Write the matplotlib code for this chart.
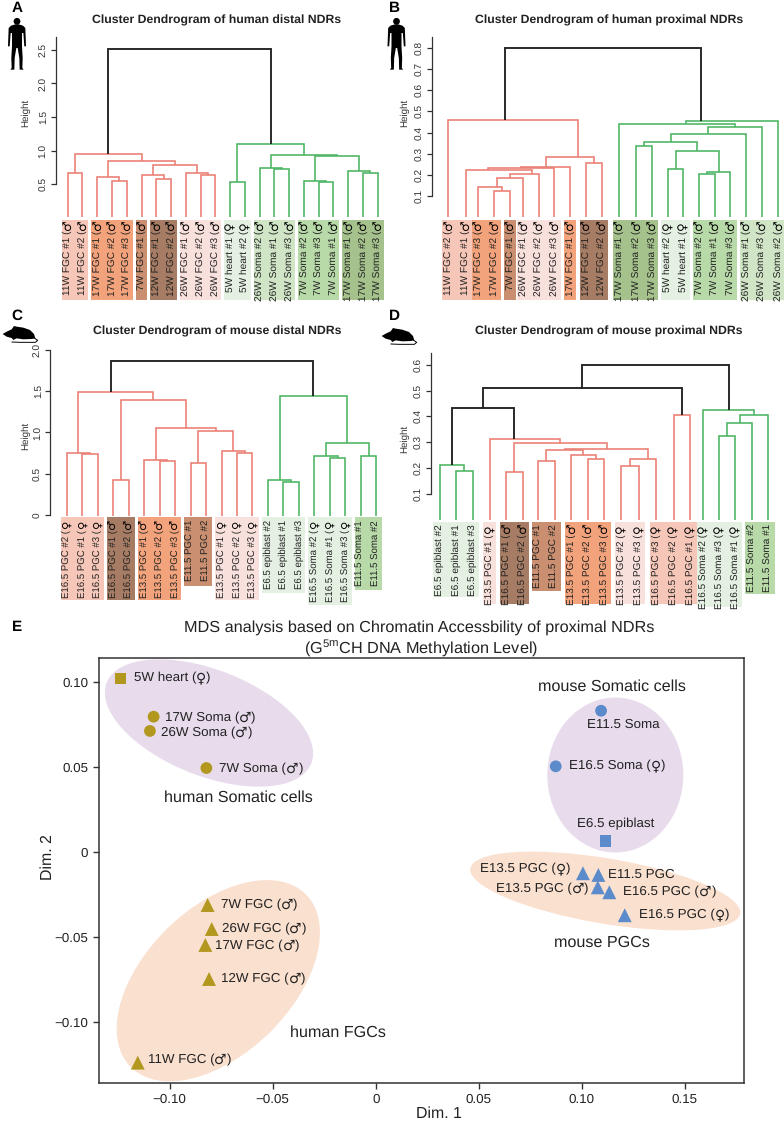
import matplotlib

matplotlib.use("Agg")
import matplotlib.pyplot as plt
from matplotlib.patches import Circle, Ellipse, Polygon, Rectangle

plt.rcParams["font.family"] = ["Liberation Sans", "DejaVu Sans"]
plt.rcParams["mathtext.default"] = "regular"
plt.rcParams["text.hinting"] = "no_hinting"

W, H = 784, 1121
M, F = "♂", "♀"

# dendrograms are stored like R's hclust: negative = leaf, positive = earlier row
labels_a = ["11W FGC #1", "11W FGC #2", "17W FGC #1", "17W FGC #2", "17W FGC #3", "7W FGC #1",
            "12W FGC #1", "12W FGC #2", "26W FGC #1", "26W FGC #2", "26W FGC #3", "5W heart #1",
            "5W heart #2", "26W Soma #2", "26W Soma #1", "26W Soma #3", "7W Soma #2", "7W Soma #3",
            "7W Soma #1", "17W Soma #1", "17W Soma #2", "17W Soma #3"]
sex_a = [M] * 11 + [F] * 2 + [M] * 9
merge_a = [(-1, -2), (-4, -5), (-3, 2), (-7, -8), (-6, 4), (-10, -11), (-9, 6), (5, 7), (3, 8), (1, 9),
           (-12, -13), (-15, -16), (-14, 12), (-18, -19), (-17, 14), (-21, -22), (-20, 16), (15, 17),
           (13, 18), (11, 19), (10, 20)]
height_a = [0.67, 0.54, 0.60, 0.58, 0.64, 0.64, 0.66, 0.78, 0.84, 0.95,
            0.53, 0.73, 0.735, 0.535, 0.545, 0.665, 0.70, 0.92, 0.94, 1.09, 2.52]
branch_a = ["r"] * 10 + ["g"] * 10 + ["k"]

labels_b = ["11W FGC #2", "11W FGC #1", "17W FGC #3", "17W FGC #2", "7W FGC #1", "26W FGC #1",
            "26W FGC #2", "26W FGC #3", "17W FGC #1", "12W FGC #1", "12W FGC #2", "17W Soma #1",
            "17W Soma #2", "17W Soma #3", "5W heart #2", "5W heart #1", "7W Soma #2", "7W Soma #1",
            "7W Soma #3", "26W Soma #1", "26W Soma #3", "26W Soma #2"]
sex_b = [M] * 14 + [F] * 2 + [M] * 6
merge_b = [(-4, -5), (-3, 1), (2, -6), (3, -7), (-2, 4), (5, -8), (6, -9), (-10, -11), (7, 8), (-1, 9),
           (-13, -14), (-15, -16), (-17, -18), (13, -19), (12, 14), (11, 15), (16, -20), (17, -21),
           (-12, 18), (19, -22), (10, 20)]
height_b = [0.124, 0.144, 0.187, 0.204, 0.223, 0.231, 0.239, 0.255, 0.285, 0.46,
            0.338, 0.229, 0.204, 0.213, 0.311, 0.354, 0.395, 0.425, 0.442, 0.455, 0.80]
branch_b = ["r"] * 10 + ["g"] * 10 + ["k"]

labels_c = ["E16.5 PGC #2", "E16.5 PGC #1", "E16.5 PGC #3", "E16.5 PGC #1", "E16.5 PGC #2",
            "E13.5 PGC #1", "E13.5 PGC #2", "E13.5 PGC #3", "E11.5 PGC #1", "E11.5 PGC #2",
            "E13.5 PGC #1", "E13.5 PGC #2", "E13.5 PGC #3", "E6.5 epiblast #2", "E6.5 epiblast #1",
            "E6.5 epiblast #3", "E16.5 Soma #2", "E16.5 Soma #1", "E16.5 Soma #3", "E11.5 Soma #1",
            "E11.5 Soma #2"]
sex_c = [F] * 3 + [M] * 5 + [""] * 2 + [F] * 3 + [""] * 3 + [F] * 3 + [""] * 2
merge_c = [(-2, -3), (-1, 1), (-4, -5), (-7, -8), (-6, 4), (-9, -10), (-12, -13), (-11, 7), (6, 8), (5, 9),
           (3, 10), (2, 11), (-15, -16), (-14, 13), (-18, -19), (-17, 15), (-20, -21), (16, 17),
           (14, 18), (12, 19)]
height_c = [0.735, 0.755, 0.425, 0.65, 0.663, 0.63, 0.75, 0.77, 1.02, 1.06, 1.39, 1.495,
            0.405, 0.425, 0.69, 0.71, 0.72, 0.87, 1.446, 1.87]
branch_c = ["r"] * 12 + ["g"] * 7 + ["k"]

labels_d = ["E6.5 epiblast #2", "E6.5 epiblast #1", "E6.5 epiblast #3", "E13.5 PGC #1", "E16.5 PGC #1",
            "E16.5 PGC #2", "E11.5 PGC #1", "E11.5 PGC #2", "E13.5 PGC #1", "E13.5 PGC #2",
            "E13.5 PGC #3", "E13.5 PGC #2", "E13.5 PGC #3", "E16.5 PGC #3", "E16.5 PGC #2",
            "E16.5 PGC #1", "E16.5 Soma #2", "E16.5 Soma #3", "E16.5 Soma #1", "E11.5 Soma #2",
            "E11.5 Soma #1"]
sex_d = [""] * 3 + [F] + [M] * 2 + [""] * 2 + [M] * 3 + [F] * 8 + [""] * 2
merge_d = [(-2, -3), (-1, 1), (-5, -6), (-7, -8), (-10, -11), (-9, 5), (4, 6), (-12, -13), (8, -14), (7, 9),
           (3, 10), (-4, 11), (-15, -16), (2, 12), (14, 13), (-18, -19), (16, -20), (17, -21),
           (-17, 18), (15, 19)]
height_d = [0.189, 0.212, 0.185, 0.228, 0.236, 0.249, 0.271, 0.206, 0.233, 0.274, 0.296, 0.312, 0.405,
            0.433, 0.511, 0.325, 0.374, 0.406, 0.423, 0.60]
branch_d = ["g"] * 2 + ["r"] * 11 + ["k"] * 2 + ["g"] * 4 + ["k"]

# MDS panel
human_names = ["5W heart (♀)", "17W Soma (♂)", "26W Soma (♂)", "7W Soma (♂)", "7W FGC (♂)",
               "26W FGC (♂)", "17W FGC (♂)", "12W FGC (♂)", "11W FGC (♂)"]
human_dim1 = [-0.1238, -0.1078, -0.1096, -0.0822, -0.0816, -0.0796, -0.0827, -0.0809, -0.1155]
human_dim2 = [0.1022, 0.0796, 0.0712, 0.0494, -0.0312, -0.0453, -0.0547, -0.0747, -0.1239]
human_kind = ["s", "o", "o", "o", "^", "^", "^", "^", "^"]

mouse_names = ["E11.5 Soma", "E16.5 Soma (♀)", "E6.5 epiblast", "E13.5 PGC (♀)", "E11.5 PGC",
               "E13.5 PGC (♂)", "E16.5 PGC (♂)", "E16.5 PGC (♀)"]
mouse_dim1 = [0.1094, 0.0874, 0.1115, 0.1006, 0.1081, 0.1078, 0.1134, 0.1209]
mouse_dim2 = [0.0831, 0.0504, 0.0065, -0.0125, -0.0135, -0.0208, -0.0237, -0.0372]
mouse_kind = ["o", "o", "s", "^", "^", "^", "^", "^"]

mds_ticks_x = [-0.10, -0.05, 0, 0.05, 0.10, 0.15]
mds_tick_labels_x = ["−0.10", "−0.05", "0", "0.05", "0.10", "0.15"]
mds_ticks_y = [-0.10, -0.05, 0, 0.05, 0.10]
mds_tick_labels_y = ["−0.10", "−0.05", "0", "0.05", "0.10"]

# styles
LINE = {"r": "#ea7d72", "g": "#4bb562", "k": "#222222"}
SALMON, ORANGE = "#f6c7b8", "#f2a37c"
MIDBROWN, BROWN = "#c98f70", "#a67c64"
PINK, PALEGREEN = "#f8e0dc", "#e4f0e2"
LIGHTGREEN, GREEN, DARKGREEN = "#cfe5c6", "#b8d9a8", "#a5c28c"
OLIVE, BLUE = "#b2981f", "#5b8bca"
PURPLE, PEACH = "#e8dcec", "#fae0cf"
DARK = "#333333"

# (first leaf, last leaf, colour, bottom pixel)
boxes_a = [(0, 1, SALMON, 300), (2, 4, ORANGE, 300), (5, 5, MIDBROWN, 300), (6, 7, BROWN, 300),
           (8, 10, PINK, 300), (11, 12, PALEGREEN, 300), (13, 15, LIGHTGREEN, 300),
           (16, 18, GREEN, 300), (19, 21, DARKGREEN, 300)]
boxes_b = [(0, 1, SALMON, 300), (2, 3, ORANGE, 300), (4, 4, MIDBROWN, 300), (5, 7, PINK, 300),
           (8, 8, ORANGE, 300), (9, 10, BROWN, 300), (11, 13, DARKGREEN, 300), (14, 15, PALEGREEN, 300),
           (16, 18, GREEN, 300), (19, 21, LIGHTGREEN, 300)]
boxes_c = [(0, 2, SALMON, 600), (3, 4, BROWN, 600), (5, 7, ORANGE, 600), (8, 9, MIDBROWN, 586),
           (10, 12, PINK, 600), (13, 15, PALEGREEN, 593), (16, 18, PALEGREEN, 605), (19, 20, GREEN, 590)]
boxes_d = [(0, 2, PALEGREEN, 597), (3, 3, PINK, 604), (4, 5, BROWN, 604), (6, 7, MIDBROWN, 591),
           (8, 10, ORANGE, 604), (11, 12, PINK, 604), (13, 15, SALMON, 604), (16, 18, PALEGREEN, 607),
           (19, 20, GREEN, 594)]

# hand-moved stems and leaves of the published figure, in leaf widths
stem_b = {2: 0.45, 4: 0.46, 5: -0.66, 9: 0.53, 10: -0.53, 19: 0.58, 20: -2.0}
nudge_b = [0, 0.1, -0.1, -0.06, -0.06, -0.21, -0.23, -0.23, -0.23, -0.21, -0.21, -0.11,
           0, 0, 0, 0, 0, 0, 0, 0, 0, 0.06]
stem_c = {12: -0.28}
stem_d = {9: 0.3, 12: -0.69}
nudge_d = [0, 0, 0, 0.05, 0.05, 0.05, 0, 0, 0, 0, 0, 0.05, 0.12, 0.18, 0.24, 0.26, 0.05, 0, 0, 0, 0]

fig = plt.figure(figsize=(W / 100, H / 100), dpi=100, facecolor="white")


def px_axes(left, top, right, bottom):
    return fig.add_axes([left / W, 1 - bottom / H, (right - left) / W, (bottom - top) / H])


page = px_axes(0, 0, W, H)
page.set_xlim(0, W)
page.set_ylim(H, 0)
page.axis("off")


def plot_dendrogram(labels, sex, merge, height, branch, boxes, ticks, x0, dx, spine_x, spine_top,
                    tick_px, leaf_px, box_top, font=7.3, stems=None, nudge=None):
    stems = stems or {}
    nudge = nudge or [0] * len(labels)
    n = len(labels)
    bottom_px = max(b[3] for b in boxes)

    def val(y):
        return ticks[0] + (y - tick_px[0]) * (ticks[-1] - ticks[0]) / (tick_px[1] - tick_px[0])

    ax = px_axes(spine_x, spine_top, x0 + dx * n, bottom_px)
    ax.patch.set_alpha(0)
    ax.set_xlim((spine_x - x0) / dx, n)
    ax.set_ylim(val(bottom_px), val(spine_top))

    for spine in ["top", "right", "bottom"]:
        ax.spines[spine].set_visible(False)
    ax.spines["left"].set_bounds(ticks[0], val(spine_top))
    ax.spines["left"].set_linewidth(0.9)
    ax.spines["left"].set_color(DARK)
    ax.set_xticks([])
    ax.set_yticks(ticks)
    ax.set_yticklabels([f"{t:.1f}" if t else "0" for t in ticks], rotation=90, va="center",
                       fontsize=7.3, color=DARK)
    ax.tick_params(axis="y", length=3.6, width=0.9, color=DARK, pad=1.5)

    leaf_x = [i + nudge[i] for i in range(n)]
    for first, last, colour, box_bottom in boxes:
        ax.add_patch(Rectangle((leaf_x[first] - 0.4, val(box_bottom)), leaf_x[last] - leaf_x[first] + 0.8,
                               val(box_top) - val(box_bottom), facecolor=colour, edgecolor="none",
                               zorder=1, clip_on=False))

    base = val(leaf_px)
    nodes = {}
    for row, ((a, b), h, c) in enumerate(zip(merge, height, branch), start=1):
        xa, ya = (leaf_x[-a - 1], base) if a < 0 else nodes[a]
        xb, yb = (leaf_x[-b - 1], base) if b < 0 else nodes[b]
        ax.plot([xa, xa, xb, xb], [ya, h, h, yb], color=LINE[c], lw=1.35 if c == "k" else 1.15,
                solid_joinstyle="miter", solid_capstyle="butt", zorder=3, clip_on=False)
        nodes[row] = ((xa + xb) / 2 + stems.get(row, 0), h)

    for x, name, s in zip(leaf_x, labels, sex):
        if s:
            ax.annotate(name + " (", (x, base), xytext=(0, -14), textcoords="offset pixels", rotation=90,
                        ha="center", va="top", fontsize=font, color="#222222", zorder=4)
            ax.annotate(s, (x, base), xytext=(0, -9), textcoords="offset pixels", rotation=90,
                        ha="center", va="center", fontsize=font + 1.3, fontweight="bold", color="black",
                        family="DejaVu Sans", zorder=4)
        else:
            ax.annotate(name, (x, base), xytext=(0, -4), textcoords="offset pixels", rotation=90,
                        ha="center", va="top", fontsize=font, color="#222222", zorder=4)
    return ax


def height_label(x, y):
    page.text(x, y, "Height", rotation=90, ha="center", va="center", fontsize=7, color=DARK)


def draw_human(cx, top):
    # outline in zoomed pixels, mirrored about the body axis
    half = [(5, 74), (18, 78), (25, 85), (27, 140), (22, 140), (19, 100), (15, 100), (15, 140), (17, 175),
            (16, 205), (20, 210), (8, 210), (7, 175), (2, 145), (0, 145)]
    pts = [(cx + dx / 3, top + (y - 55) / 3) for dx, y in half]
    pts += [(cx - dx / 3, top + (y - 55) / 3) for dx, y in reversed(half)]
    page.add_patch(Polygon(pts, closed=True, facecolor="black", edgecolor="none"))
    page.add_patch(Circle((cx, top + 10 / 3), 3.4, facecolor="black", edgecolor="none"))


def draw_mouse(x, y):
    body = [(8, 72), (20, 65), (35, 58), (42, 48), (50, 50), (70, 53), (90, 60), (102, 72), (106, 85), (95, 87),
            (70, 88), (50, 85), (40, 90), (35, 84), (20, 80)]
    tail = [(103, 84), (113, 91), (106, 97), (60, 97), (36, 96)]
    page.add_patch(Polygon([(x + a / 3, y + b / 3) for a, b in body], closed=True, facecolor="black",
                           edgecolor="none"))
    page.plot([x + a / 3 for a, b in tail], [y + b / 3 for a, b in tail], color="black", lw=0.7)


def mds_label(ax, name, x, y, off):
    # the sign glyph comes from DejaVu, Liberation's is too small
    style = dict(va="center", ha="left", fontsize=9.6, color="#222222", zorder=4)
    if name.endswith(")"):
        t = ax.annotate(name[:-2], (x, y), xytext=off, textcoords="offset pixels", **style)
        s = ax.annotate(name[-2], (1, 0.5), xycoords=t, family="DejaVu Sans", **{**style, "fontsize": 10})
        ax.annotate(")", (1, 0.5), xycoords=s, **style)
    else:
        ax.annotate(name, (x, y), xytext=off, textcoords="offset pixels", **style)


plot_dendrogram(labels_a, sex_a, merge_a, height_a, branch_a, boxes_a, [0.5, 1.0, 1.5, 2.0, 2.5],
                x0=67.7, dx=14.76, spine_x=55.7, spine_top=37.3, tick_px=(184, 50), leaf_px=216.7, box_top=219.5)
plot_dendrogram(labels_b, sex_b, merge_b, height_b, branch_b, boxes_b,
                [0.1, 0.2, 0.3, 0.4, 0.5, 0.6, 0.7, 0.8],
                x0=448.3, dx=15.67, spine_x=432, spine_top=36.7, tick_px=(196, 48), leaf_px=216.7, box_top=220,
                stems=stem_b, nudge=nudge_b)
plot_dendrogram(labels_c, sex_c, merge_c, height_c, branch_c, boxes_c, [0, 0.5, 1.0, 1.5, 2.0],
                x0=66.7, dx=15.48, spine_x=50, spine_top=350, tick_px=(515, 350), leaf_px=516, box_top=517,
                font=6.9, stems=stem_c)
plot_dendrogram(labels_d, sex_d, merge_d, height_d, branch_d, boxes_d, [0.1, 0.2, 0.3, 0.4, 0.5, 0.6],
                x0=439.7, dx=16.43, spine_x=430.7, spine_top=353.3, tick_px=(493.7, 364.7), leaf_px=520,
                box_top=522, font=7.2, stems=stem_d, nudge=nudge_d)

titles = ["Cluster Dendrogram of human distal NDRs", "Cluster Dendrogram of human proximal NDRs",
          "Cluster Dendrogram of mouse distal NDRs", "Cluster Dendrogram of mouse proximal NDRs"]
for title, x, y in zip(titles, [217, 609, 217, 609], [20, 20, 331, 331]):
    page.text(x, y, title, ha="center", va="center", fontsize=8.85, fontweight="bold", color="#222222")
for x, y in [(26, 113), (405, 113), (26, 436), (405, 439)]:
    height_label(x, y)
for letter, x, y in [("A", 17, 8), ("B", 394, 8), ("C", 17, 316), ("D", 394, 316), ("E", 17, 627)]:
    page.text(x, y, letter, ha="center", va="center", fontsize=11, fontweight="bold", color="black")

draw_human(17, 18)
draw_human(396.5, 18)
draw_mouse(0, 310)
draw_mouse(379, 312)

# panel E
ax = px_axes(99, 657.7, 743.7, 1083)
ax.patch.set_alpha(0)
for cx, cy, w, h, angle, colour in [(209, 723, 220, 106, 21.5, PURPLE), (218.3, 980.7, 246, 146, -44.4, PEACH),
                                    (615.3, 775, 136, 155, 0, PURPLE), (605.3, 891, 273.6, 65.3, 9.55, PEACH)]:
    ax.add_patch(Ellipse((cx, cy), w, h, angle=angle, facecolor=colour, edgecolor="none",
                         transform=page.transData, zorder=1))

point_size = {"o": 72, "s": 66, "^": 100}
for xs, ys, kinds, colour in [(human_dim1, human_dim2, human_kind, OLIVE), (mouse_dim1, mouse_dim2, mouse_kind, BLUE)]:
    for x, y, k in zip(xs, ys, kinds):
        ax.scatter(x, y, marker=k, s=point_size[k], color=colour, edgecolors="none", zorder=3, clip_on=False)

human_offset = [(13, 0), (11, -1), (11, -2), (13, -1), (13, 0), (10, 0), (10, -1), (12, 0), (10, 3)]
mouse_offset = [(-14, -14), (13, 0), (-28, 17), (-103, 4), (10, 0), (-102, -2), (14, 0), (14, 0)]
for names, xs, ys, offs in [(human_names, human_dim1, human_dim2, human_offset),
                            (mouse_names, mouse_dim1, mouse_dim2, mouse_offset)]:
    for name, x, y, off in zip(names, xs, ys, offs):
        mds_label(ax, name, x, y, off)

ax.set_xlim((99 - 375.7) / 2060, (743.7 - 375.7) / 2060)
ax.set_ylim((852 - 1083) / 1700, (852 - 657.7) / 1700)
ax.set_xticks(mds_ticks_x)
ax.set_xticklabels(mds_tick_labels_x)
ax.set_yticks(mds_ticks_y)
ax.set_yticklabels(mds_tick_labels_y)
ax.tick_params(length=4.2, width=1.0, color=DARK, labelsize=9.6, labelcolor="#222222", pad=3.5)
for spine in ax.spines.values():
    spine.set_linewidth(1.1)
    spine.set_color(DARK)

for text, x, y in [("human Somatic cells", 238.7, 798), ("human FGCs", 338, 1033), ("mouse Somatic cells", 612, 687),
                   ("mouse PGCs", 602, 943)]:
    page.text(x, y, text, ha="center", va="center", fontsize=11.6, color="#222222", zorder=5)
page.text(419, 628, "MDS analysis based on Chromatin Accessbility of proximal NDRs", ha="center", va="center",
          fontsize=11.7, color="#222222")
page.text(421, 648, "(G$^{5m}$CH DNA Methylation Level)", ha="center", va="center", fontsize=11.7, color="#222222")
page.text(48, 857, "Dim. 2", rotation=90, ha="center", va="center", fontsize=11.4, color="#222222")
page.text(438.7, 1114, "Dim. 1", ha="center", va="center", fontsize=11.4, color="#222222")

fig.savefig("out.png", dpi=100)
